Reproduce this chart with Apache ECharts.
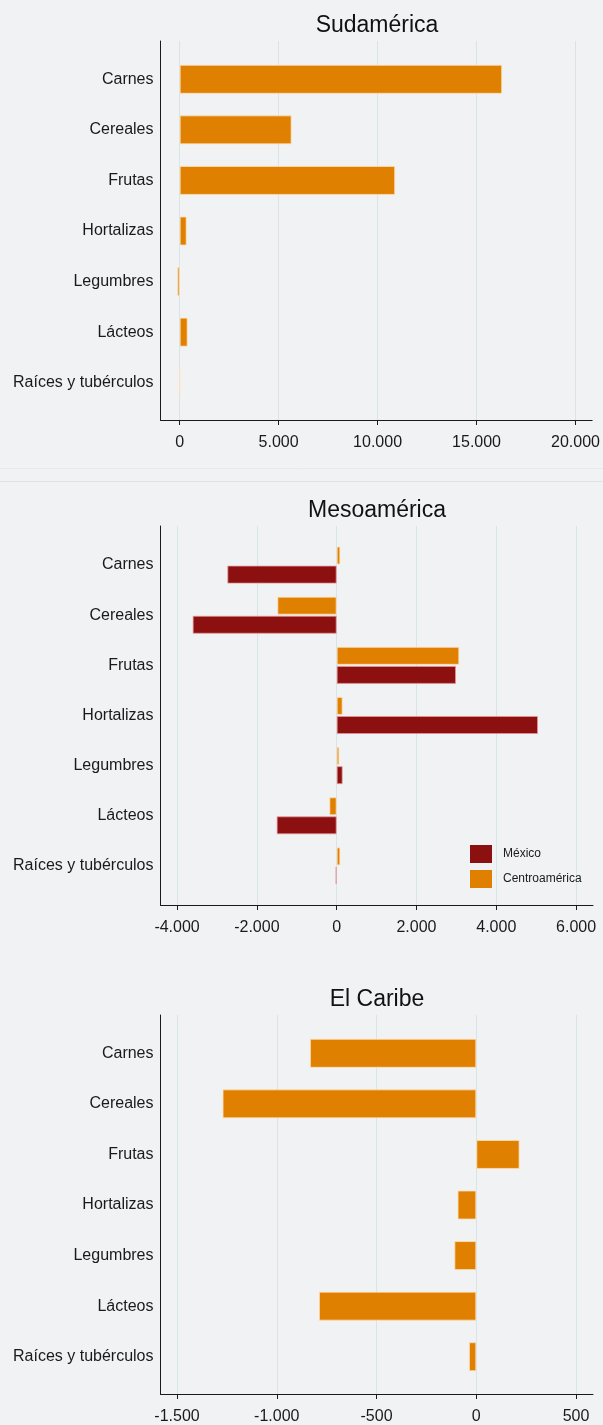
<!DOCTYPE html>
<html>
<head>
<meta charset="utf-8">
<script src="https://cdn.jsdelivr.net/npm/echarts@6/dist/echarts.min.js"></script>
<style>
html,body{margin:0;padding:0;background:#f1f2f4;}
#c{width:603px;height:1425px;}
</style>
</head>
<body>
<div id="c"></div>
<script>
const categories = ['Carnes','Cereales','Frutas','Hortalizas','Legumbres','Lácteos','Raíces y tubérculos'];
const sudamerica = [16260, 5645, 10867, 353, -120, 403, 8];
const mexico = [-2740, -3609, 2991, 5046, 150, -1504, -25];
const centroamerica = [92, -1487, 3074, 150, 67, -184, 92];
const caribe = [-834, -1272, 217, -94, -110, -789, -37];
const ticks1 = [0, 5000, 10000, 15000, 20000];
const ticks2 = [-4000, -2000, 0, 2000, 4000, 6000];
const ticks3 = [-1500, -1000, -500, 0, 500];
const titles = ['Sudamérica', 'Mesoamérica', 'El Caribe'];

const FONT = "'Liberation Sans', Arial, sans-serif";
const ORANGE = '#e08000';
const RED = '#8c1010';

function fmt(v){
  const s = Math.abs(Math.round(v)).toString().replace(/\B(?=(\d{3})+(?!\d))/g, '.');
  return (v < 0 ? '-' : '') + s;
}

const panels = [
  {axisTop: 41, axisBottom: 420, inTop: 54, inBottom: 408, titleTop: 9, min: -966, max: 20840, ticks: ticks1},
  {axisTop: 526, axisBottom: 905, inTop: 540, inBottom: 891, titleTop: 494, min: -4415, max: 6424, ticks: ticks2},
  {axisTop: 1015, axisBottom: 1394, inTop: 1028, inBottom: 1382, titleTop: 983, min: -1583, max: 585, ticks: ticks3}
];
const LEFT = 160.5, RIGHT = 10;

const grid = [], xAxis = [], yAxis = [], title = [];
panels.forEach((p, i) => {
  grid.push({left: LEFT, right: RIGHT, top: p.axisTop, height: p.axisBottom - p.axisTop});
  grid.push({left: LEFT, right: RIGHT, top: p.inTop, height: p.inBottom - p.inTop});
  xAxis.push({
    type: 'value', gridIndex: 2*i, min: p.min, max: p.max,
    axisLine: {show: true, onZero: false, lineStyle: {color: '#1a1a1a', width: 1}},
    axisTick: {show: true, length: 5, customValues: p.ticks, lineStyle: {color: '#1a1a1a'}},
    axisLabel: {customValues: p.ticks, formatter: fmt, fontSize: 16, fontFamily: FONT, color: '#1a1a1a', margin: 15},
    splitLine: {show: true, lineStyle: {color: '#d9e4e7', width: 1}}
  });
  xAxis.push({type: 'value', gridIndex: 2*i+1, min: p.min, max: p.max, show: false, splitLine: {show: false}});
  yAxis.push({
    type: 'value', gridIndex: 2*i, min: 0, max: 1,
    axisLine: {show: true, onZero: false, lineStyle: {color: '#1a1a1a', width: 1}},
    axisTick: {show: false}, axisLabel: {show: false}, splitLine: {show: false}
  });
  yAxis.push({
    type: 'category', gridIndex: 2*i+1, data: categories, inverse: true,
    axisLine: {show: false, onZero: false}, axisTick: {show: false},
    axisLabel: {fontSize: 16, fontFamily: FONT, color: '#1a1a1a', margin: 7},
    splitLine: {show: false}
  });
  title.push({
    text: titles[i], left: 372, textAlign: 'center', top: p.titleTop,
    textStyle: {fontSize: 23, fontWeight: 'normal', fontFamily: FONT, color: '#111'}
  });
});

const orangeStyle = {color: ORANGE, borderColor: 'rgba(255,225,185,0.75)', borderWidth: 1};
const redStyle = {color: RED, borderColor: 'rgba(230,150,150,0.75)', borderWidth: 1};

const series = [
  {type: 'bar', name: 'Sudamérica', xAxisIndex: 1, yAxisIndex: 1, data: sudamerica, barWidth: 29, itemStyle: orangeStyle, silent: true},
  {type: 'bar', name: 'Centroamérica', xAxisIndex: 3, yAxisIndex: 3, data: centroamerica, barWidth: 18, barGap: '6%', itemStyle: orangeStyle, silent: true},
  {type: 'bar', name: 'México', xAxisIndex: 3, yAxisIndex: 3, data: mexico, barWidth: 18, barGap: '6%', itemStyle: redStyle, silent: true},
  {type: 'bar', name: 'El Caribe', xAxisIndex: 5, yAxisIndex: 5, data: caribe, barWidth: 29, itemStyle: orangeStyle, silent: true}
];

const chart = echarts.init(document.getElementById('c'), null, {renderer: 'canvas'});
chart.setOption({
  backgroundColor: '#f1f2f4',
  animation: false,
  title: title,
  grid: grid,
  xAxis: xAxis,
  yAxis: yAxis,
  legend: {
    data: ['México', 'Centroamérica'], orient: 'vertical', left: 465, top: 840,
    icon: 'rect', itemWidth: 22, itemHeight: 18, itemGap: 7,
    itemStyle: {borderWidth: 0},
    textStyle: {fontSize: 12, fontFamily: FONT, color: '#1a1a1a', padding: [0, 0, 0, 6]},
    selectedMode: false
  },
  graphic: [
    {type: 'line', shape: {x1: 0, y1: 468.5, x2: 603, y2: 468.5}, style: {stroke: '#e6eaed', lineWidth: 1}, silent: true},
    {type: 'line', shape: {x1: 0, y1: 481.5, x2: 603, y2: 481.5}, style: {stroke: '#dbe4e8', lineWidth: 1}, silent: true}
  ],
  series: series
});
</script>
</body>
</html>
